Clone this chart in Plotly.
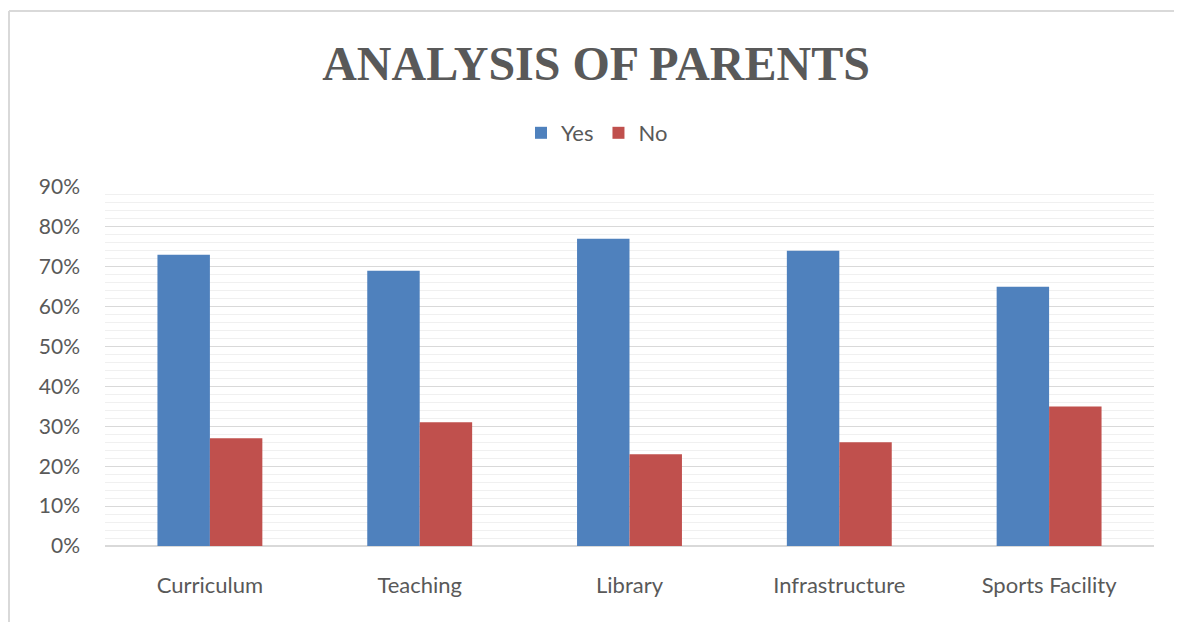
import plotly.graph_objects as go

categories = ["Curriculum", "Teaching", "Library", "Infrastructure", "Sports Facility"]
yes_values = [0.73, 0.69, 0.77, 0.74, 0.65]
no_values = [0.27, 0.31, 0.23, 0.26, 0.35]

OFF = 8  # default page body margin
W, H = 1182 - OFF, 622 - OFF
L, R, T, B = 105 - OFF, 28, 187 - OFF, 76
pw, ph = W - L - R, H - T - B

def px_x(x):
    return (x - OFF - L) / pw

def px_y(y):
    return (H - B - (y - OFF)) / ph

fig = go.Figure()
fig.add_bar(x=categories, y=yes_values, name="Yes", marker=dict(color="#4F81BD", line=dict(width=0)))
fig.add_bar(x=categories, y=no_values, name="No", marker=dict(color="#C0504D", line=dict(width=0)))

font_main = "Lato, Carlito, 'Open Sans', sans-serif"

fig.update_layout(
    width=W, height=H,
    margin=dict(l=L, r=R, t=T, b=B),
    paper_bgcolor="white", plot_bgcolor="white",
    barmode="group", bargap=0.5, bargroupgap=0,
    title=dict(text="<b>ANALYSIS OF PARENTS</b>", x=px_x(596), xref="paper", xanchor="center",
               y=1 - (63 - OFF) / H, yref="container", yanchor="middle",
               font=dict(family="'Liberation Serif', 'DejaVu Serif', serif", size=48, color="#595959")),
    legend=dict(orientation="h", x=px_x(597), xanchor="center", y=px_y(133), yanchor="middle",
                font=dict(family=font_main, size=22, color="#595959"), itemwidth=30,
                traceorder="normal"),
    showlegend=True,
    font=dict(family=font_main, color="#595959"),
)
fig.update_yaxes(range=[0, 0.9], dtick=0.1, tickformat=".0%", showgrid=True, gridcolor="#d9d9d9", gridwidth=1,
                 zeroline=True, zerolinecolor="#d9d9d9", zerolinewidth=2,
                 minor=dict(dtick=0.02, showgrid=True, gridcolor="#f0f0f0", gridwidth=1),
                 tickfont=dict(family=font_main, size=21, color="#595959"), ticklabelstandoff=24,
                 showline=False, fixedrange=True)
fig.update_xaxes(showgrid=False, showline=False, tickfont=dict(family=font_main, size=22, color="#595959"),
                 ticklabelstandoff=24)

border = "#d9d9d9"
fig.add_shape(type="line", xref="paper", yref="paper", x0=px_x(9), x1=px_x(9), y0=px_y(11), y1=px_y(640),
              line=dict(color=border, width=2))
fig.add_shape(type="line", xref="paper", yref="paper", x0=px_x(9), x1=px_x(1181), y0=px_y(11), y1=px_y(11),
              line=dict(color=border, width=2))
fig.add_shape(type="line", xref="paper", yref="paper", x0=px_x(1180.5), x1=px_x(1180.5), y0=px_y(11), y1=px_y(640),
              line=dict(color="#ececec", width=1))

fig.write_html("out.html")
